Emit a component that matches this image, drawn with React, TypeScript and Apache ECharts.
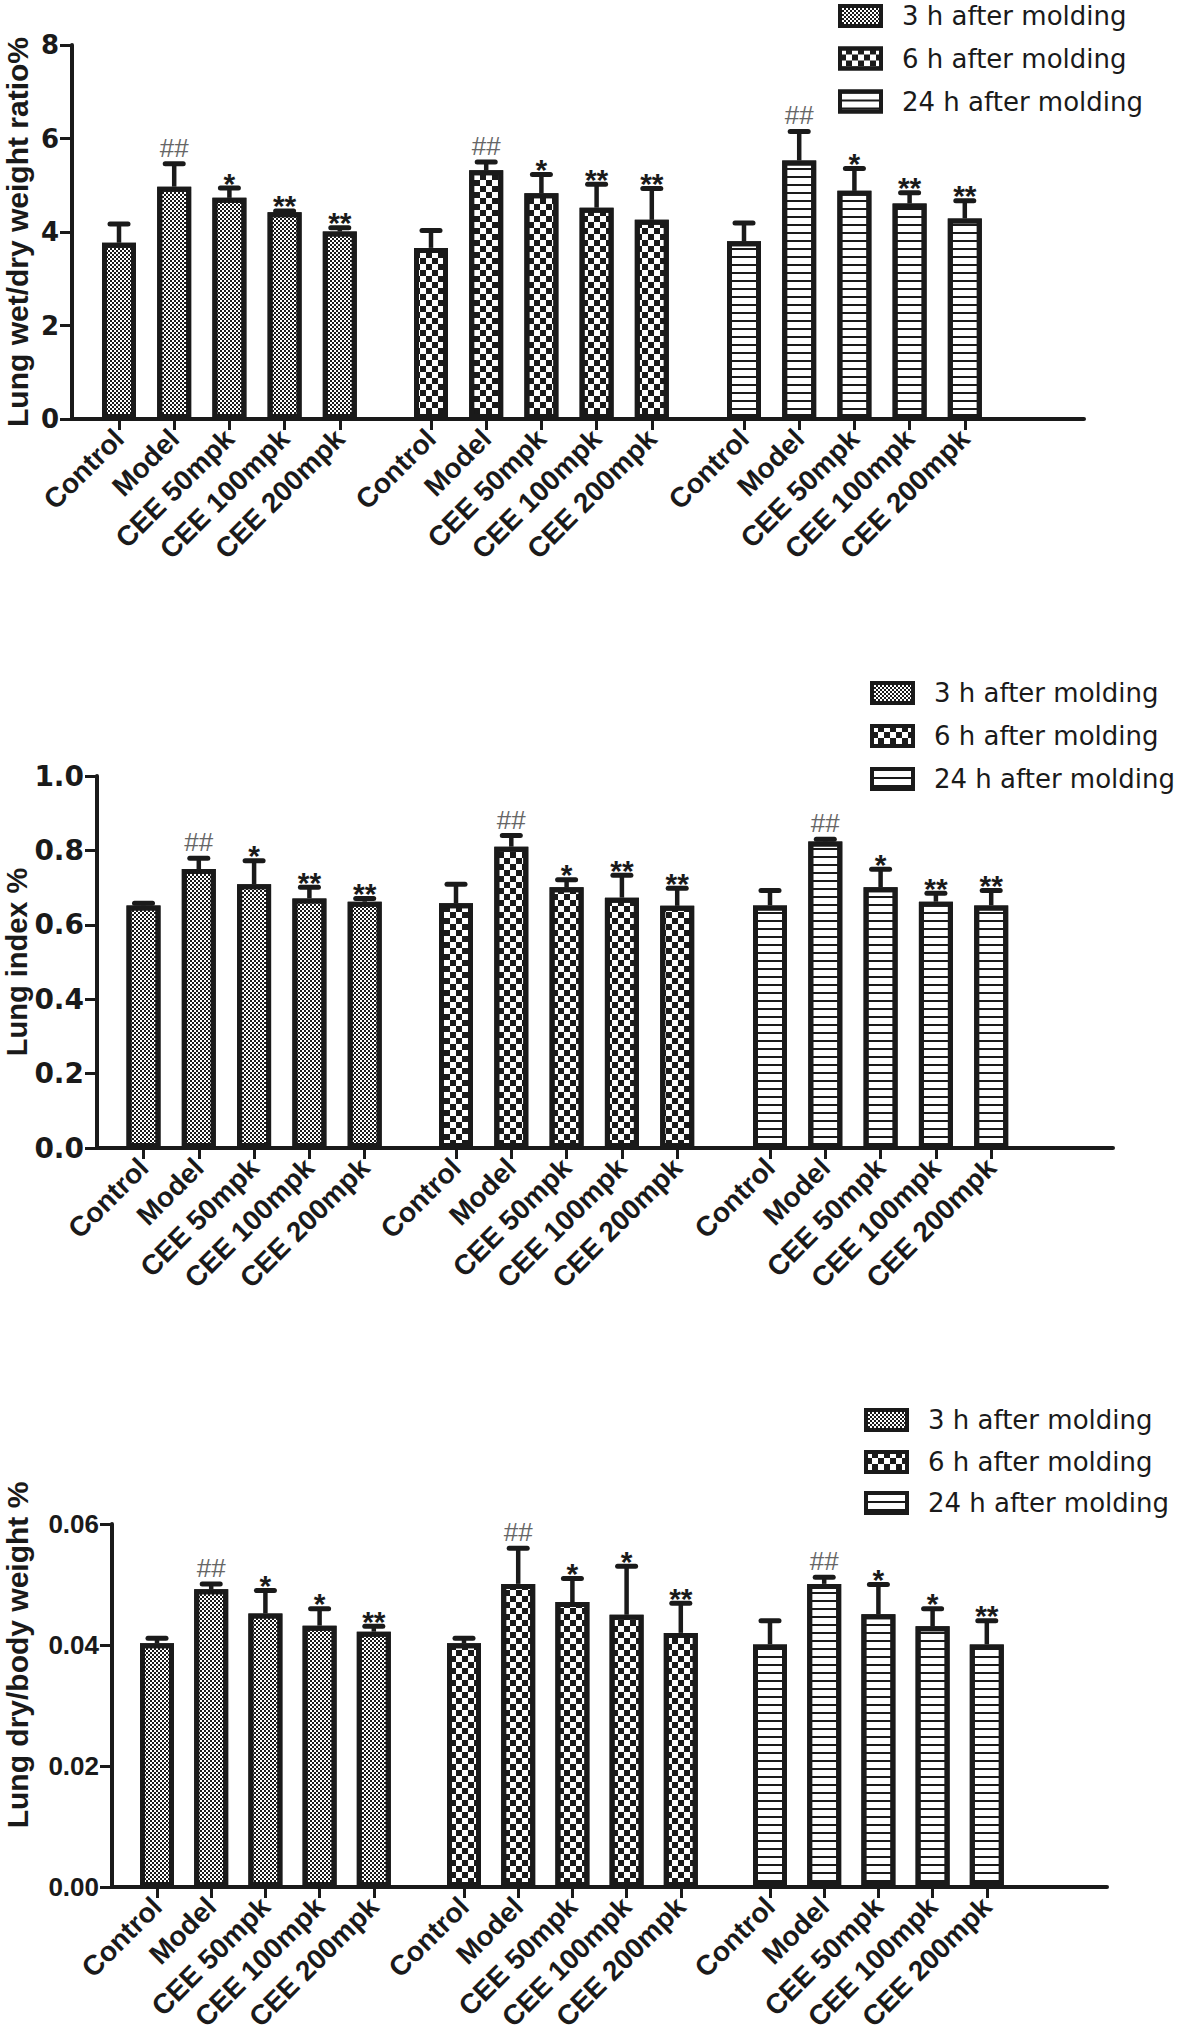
import React, { useEffect, useRef } from 'react';
import * as echarts from 'echarts';

// ---------- data ----------
const groupLabels = ['Control', 'Model', 'CEE 50mpk', 'CEE 100mpk', 'CEE 200mpk'];
const seriesNames = ['3 h after molding', '6 h after molding', '24 h after molding'];

// Panel A: Lung wet/dry weight ratio%
const wetDryMean3h = [3.77, 4.97, 4.73, 4.42, 4.01];
const wetDryUpper3h = [4.17, 5.46, 4.94, 4.45, 4.09];
const wetDryMean6h = [3.66, 5.32, 4.83, 4.52, 4.26];
const wetDryUpper6h = [4.03, 5.5, 5.23, 5.02, 4.93];
const wetDryMean24h = [3.8, 5.53, 4.88, 4.61, 4.29];
const wetDryUpper24h = [4.19, 6.15, 5.36, 4.84, 4.67];
const wetDryMarks = ['', '##', '*', '**', '**'];
const wetDryTicks = { min: 0, max: 8, interval: 2, decimals: 0 };

// Panel B: Lung index %
const indexMean3h = [0.652, 0.75, 0.709, 0.671, 0.662];
const indexUpper3h = [0.658, 0.779, 0.772, 0.701, 0.671];
const indexMean6h = [0.658, 0.81, 0.701, 0.673, 0.651];
const indexUpper6h = [0.709, 0.84, 0.721, 0.733, 0.698];
const indexMean24h = [0.652, 0.824, 0.701, 0.662, 0.652];
const indexUpper24h = [0.692, 0.83, 0.749, 0.685, 0.692];
const indexMarks = ['', '##', '*', '**', '**'];
const indexTicks = { min: 0, max: 1, interval: 0.2, decimals: 1 };

// Panel C: Lung dry/body weight %
const dryBodyMean3h = [0.0403, 0.0492, 0.0452, 0.0432, 0.0422];
const dryBodyUpper3h = [0.0411, 0.0501, 0.049, 0.046, 0.0431];
const dryBodyMean6h = [0.0403, 0.0501, 0.0471, 0.045, 0.042];
const dryBodyUpper6h = [0.0411, 0.056, 0.051, 0.053, 0.0469];
const dryBodyMean24h = [0.0401, 0.0501, 0.0451, 0.0431, 0.0401];
const dryBodyUpper24h = [0.044, 0.0512, 0.05, 0.046, 0.044];
const dryBodyMarks = ['', '##', '*', '*', '**'];
const dryBodyTicks = { min: 0, max: 0.06, interval: 0.02, decimals: 2 };

const panels = [
  {
    title: 'Lung wet/dry weight ratio%',
    means: [wetDryMean3h, wetDryMean6h, wetDryMean24h],
    uppers: [wetDryUpper3h, wetDryUpper6h, wetDryUpper24h],
    marks: wetDryMarks,
    ticks: wetDryTicks,
  },
  {
    title: 'Lung index %',
    means: [indexMean3h, indexMean6h, indexMean24h],
    uppers: [indexUpper3h, indexUpper6h, indexUpper24h],
    marks: indexMarks,
    ticks: indexTicks,
  },
  {
    title: 'Lung dry/body weight %',
    means: [dryBodyMean3h, dryBodyMean6h, dryBodyMean24h],
    uppers: [dryBodyUpper3h, dryBodyUpper6h, dryBodyUpper24h],
    marks: dryBodyMarks,
    ticks: dryBodyTicks,
  },
];

// ---------- layout (page pixels) ----------
const SANS = "'Liberation Sans', Arial, sans-serif";
const WIDE = "'DejaVu Sans', 'Liberation Sans', sans-serif";
const INK = '#1a1a1a';

const layouts = [
  { axisX: 72, yTop: 45, yBottom: 419, axisEnd: 1084, first: [119, 431, 744], spacing: 55.2,
    legendLeft: 838, legendRows: [15, 57.5, 100.5], titleX: 17, titleY: 232, titleFont: 30,
    tickFont: 26, tickFamily: WIDE },
  { axisX: 97, yTop: 776, yBottom: 1148, axisEnd: 1113, first: [143.5, 456, 770], spacing: 55.3,
    legendLeft: 870, legendRows: [692, 735, 778], titleX: 17, titleY: 962, titleFont: 29,
    tickFont: 28, tickFamily: WIDE },
  { axisX: 112, yTop: 1524, yBottom: 1887, axisEnd: 1107, first: [157, 464, 770], spacing: 54.2,
    legendLeft: 864, legendRows: [1419, 1461, 1502], titleX: 17, titleY: 1655, titleFont: 30,
    tickFont: 26, tickFamily: SANS },
];

const decals: any[] = [
  { symbol: 'rect', symbolSize: 1, color: INK, dashArrayX: [[2, 2], [0, 2, 2, 0]], dashArrayY: [2, 0] },
  { symbol: 'rect', symbolSize: 1, color: INK, dashArrayX: [[6, 6], [0, 6, 6, 0]], dashArrayY: [6, 0] },
  { symbol: 'rect', symbolSize: 1, color: INK, dashArrayX: [[10, 0]], dashArrayY: [2, 6] },
];

function buildOption() {
  const grid: any[] = [];
  const xAxis: any[] = [];
  const yAxis: any[] = [];
  const series: any[] = [];
  const legend: any[] = [];
  const graphic: any[] = [];

  panels.forEach((p, pi) => {
    const L = layouts[pi];
    const top = L.yTop;
    const height = L.yBottom - L.yTop;
    const { min, max, interval, decimals } = p.ticks;

    // frame grid: y axis + continuous x axis line
    const fi = grid.length;
    grid.push({ left: L.axisX, top, width: L.axisEnd - L.axisX, height });
    xAxis.push({
      gridIndex: fi, type: 'value', min: 0, max: 1,
      axisLine: { show: true, onZero: false, lineStyle: { color: INK, width: 4 } },
      axisTick: { show: false }, axisLabel: { show: false }, splitLine: { show: false },
    });
    yAxis.push({
      gridIndex: fi, type: 'value', min, max, interval,
      axisLine: { show: true, lineStyle: { color: INK, width: 4 } },
      axisTick: { show: true, length: 12, lineStyle: { color: INK, width: 3 } },
      axisLabel: {
        margin: 13, fontSize: L.tickFont, fontWeight: 'bold', color: INK, fontFamily: L.tickFamily,
        formatter: (v: number) => v.toFixed(decimals),
      },
      splitLine: { show: false },
    });

    for (let g = 0; g < 3; g++) {
      const gi = grid.length;
      grid.push({ left: L.first[g] - L.spacing / 2, top, width: 5 * L.spacing, height });
      xAxis.push({
        gridIndex: gi, type: 'category', data: groupLabels,
        axisLine: { show: false },
        axisTick: { show: true, alignWithLabel: true, length: 11, lineStyle: { color: INK, width: 3 } },
        axisLabel: {
          interval: 0, rotate: 45, margin: 15, fontSize: 28, fontWeight: 'bold',
          color: INK, fontFamily: SANS,
        },
        splitLine: { show: false },
      });
      yAxis.push({ gridIndex: gi, type: 'value', min, max, show: false, splitLine: { show: false } });

      series.push({
        type: 'bar', name: seriesNames[g], xAxisIndex: gi, yAxisIndex: gi,
        data: p.means[g], barWidth: 34, silent: true,
        itemStyle: { color: '#ffffff', borderColor: INK, borderWidth: 5, decal: decals[g] },
      });

      const marks = p.marks;
      series.push({
        type: 'custom', xAxisIndex: gi, yAxisIndex: gi, silent: true, z: 5,
        data: p.means[g].map((m, i) => [i, m, p.uppers[g][i]]),
        renderItem: (params: any, api: any) => {
          const base = api.coord([api.value(0), api.value(1)]);
          const up = api.coord([api.value(0), api.value(2)]);
          const mark = marks[params.dataIndex];
          const children: any[] = [
            { type: 'line', shape: { x1: base[0], y1: base[1], x2: base[0], y2: up[1] },
              style: { stroke: INK, lineWidth: 4.5 } },
            { type: 'line', shape: { x1: base[0] - 9, y1: up[1], x2: base[0] + 9, y2: up[1] },
              style: { stroke: INK, lineWidth: 5, lineCap: 'round' } },
          ];
          if (mark === '##') {
            children.push({ type: 'text', x: base[0], y: up[1] - 3,
              style: { text: mark, fontSize: 26, fontFamily: SANS, fill: '#666', align: 'center', verticalAlign: 'bottom' } });
          } else if (mark) {
            children.push({ type: 'text', x: base[0], y: up[1] + 10,
              style: { text: mark, fontSize: 30, fontWeight: 'bold', fontFamily: SANS, fill: INK, align: 'center', verticalAlign: 'bottom' } });
          }
          return { type: 'group', children };
        },
      });
    }

    seriesNames.forEach((name, s) => {
      legend.push({
        data: [name], orient: 'vertical', left: L.legendLeft, top: L.legendRows[s] - 12,
        itemWidth: 41, itemHeight: 20, padding: 0, selectedMode: false, icon: 'rect',
        itemStyle: { borderWidth: 4, borderColor: INK },
        textStyle: { fontSize: 26, fontFamily: WIDE, color: INK, lineHeight: 24, padding: [0, 0, 0, 16] },
      });
    });

    graphic.push({
      type: 'text', x: L.titleX, y: L.titleY, rotation: Math.PI / 2, silent: true,
      style: { text: p.title, fontSize: L.titleFont, fontWeight: 'bold', fontFamily: SANS, fill: INK,
        align: 'center', verticalAlign: 'middle' },
    });
  });

  return { animation: false, backgroundColor: '#ffffff', grid, xAxis, yAxis, series, legend, graphic };
}

export default function App() {
  const ref = useRef<HTMLDivElement>(null);
  useEffect(() => {
    if (!ref.current) return;
    const chart = echarts.init(ref.current, undefined, { renderer: 'svg' });
    chart.setOption(buildOption() as any);
    return () => chart.dispose();
  }, []);
  return (
    <div
      ref={ref}
      style={{ position: 'absolute', left: 0, top: 0, width: 1181, height: 2042, background: '#fff' }}
    />
  );
}
